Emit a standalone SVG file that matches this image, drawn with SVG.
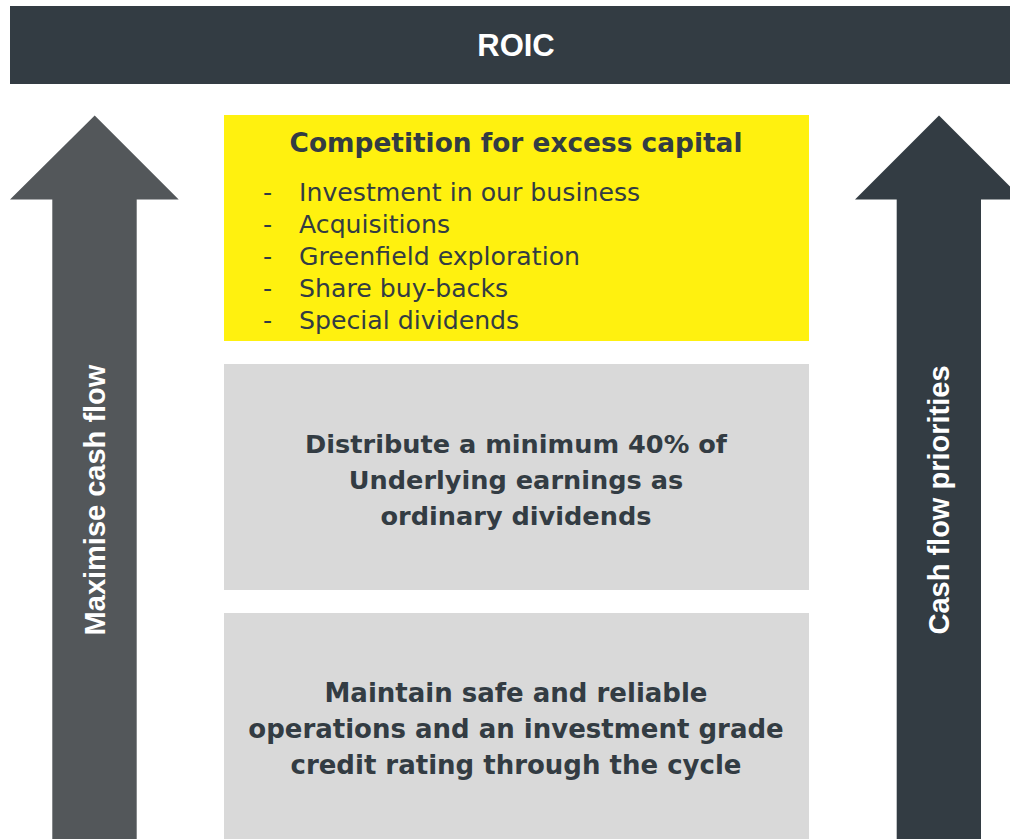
<svg xmlns="http://www.w3.org/2000/svg" width="1010" height="839" viewBox="0 0 1010 839">
<style>
.dark{fill:#333c43}
.box{fill:#d9d9d9}
.t{font-family:"DejaVu Sans","Open Sans",sans-serif;fill:#333c43}
.b{font-weight:700}
.side{font-family:"Liberation Sans",Arial,sans-serif;font-weight:700;fill:#ffffff;font-size:29px;text-anchor:middle}
</style>
<rect width="1010" height="839" fill="#ffffff"/>
<g id="roic">
<rect class="dark" x="10" y="6" width="1000" height="78"/>
<text x="516" y="56" font-family="Liberation Sans,Arial,sans-serif" font-weight="700" font-size="31" fill="#ffffff" text-anchor="middle">ROIC</text>
</g>
<g id="arrow-left">
<polygon points="94.7,115.5 178.7,199.5 136.7,199.5 136.7,839 52.3,839 52.3,199.5 10,199.5" fill="#53575a"/>
<text class="side" transform="translate(105,500) rotate(-90)">Maximise cash flow</text>
</g>
<g id="arrow-right">
<polygon points="939,115.5 1023,199.5 981,199.5 981,839 896.7,839 896.7,199.5 855,199.5" fill="#333c43"/>
<text class="side" transform="translate(949,500) rotate(-90)">Cash flow priorities</text>
</g>
<g id="excess">
<rect x="224" y="115" width="585" height="226" fill="#fff10f"/>
<text class="t b" x="516" y="152" font-size="26.4" text-anchor="middle">Competition for excess capital</text>
<g class="t" font-size="25.2">
<text x="263" y="201">-</text><text x="299" y="201">Investment in our business</text>
<text x="263" y="233">-</text><text x="299" y="233">Acquisitions</text>
<text x="263" y="265">-</text><text x="299" y="265">Greenfield exploration</text>
<text x="263" y="297">-</text><text x="299" y="297">Share buy-backs</text>
<text x="263" y="329">-</text><text x="299" y="329">Special dividends</text>
</g>
</g>
<g id="dividends">
<rect class="box" x="224" y="364" width="585" height="226"/>
<text class="t b" font-size="25.6" text-anchor="middle"><tspan x="516" y="453">Distribute a minimum 40% of</tspan><tspan x="516" y="489">Underlying earnings as</tspan><tspan x="516" y="525">ordinary dividends</tspan></text>
</g>
<g id="operations">
<rect class="box" x="224" y="613" width="585" height="226"/>
<text class="t b" font-size="26" text-anchor="middle"><tspan x="516" y="702">Maintain safe and reliable</tspan><tspan x="516" y="738">operations and an investment grade</tspan><tspan x="516" y="774">credit rating through the cycle</tspan></text>
</g>
<g id="connectors"></g>
</svg>
